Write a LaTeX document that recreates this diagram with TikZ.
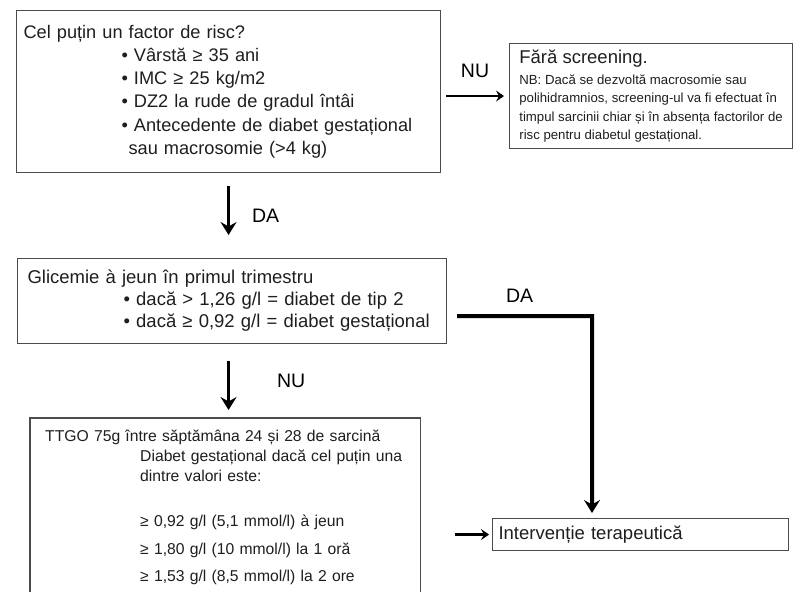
\documentclass[tikz,border=0pt]{standalone}
\usepackage{fontspec}
\setmainfont{Liberation Sans}
\definecolor{frameGray}{RGB}{75,75,75}
\definecolor{inkGray}{RGB}{30,30,30}
\usetikzlibrary{arrows.meta,positioning}

\begin{document}
\begin{tikzpicture}[x=1pt, y=-1pt,
  box/.style={draw=frameGray, line width=1.1pt, anchor=north west,
              align=left, text=inkGray},
  flow/.style={-{Stealth[length=13pt,width=16pt,inset=4.5pt]}, line width=3pt},
  side/.style={-{Stealth[length=8pt,width=11pt,inset=3pt]}, line width=2.4pt},
  answer/.style={font=\fontsize{19.5}{20}\selectfont, inner sep=0pt}
]
  \useasboundingbox (0,0) rectangle (799,591);
  \clip (0,0) rectangle (799,591);

  \node[box, inner xsep=7pt, minimum width=424pt, minimum height=162pt,
        text width=410pt, font=\fontsize{18.2}{23.3}\selectfont] (risk) at (16,10)
    {Cel puțin un factor de risc?\\
     \hspace*{98pt}• Vârstă ≥ 35 ani\\
     \hspace*{98pt}• IMC ≥ 25 kg/m2\\
     \hspace*{98pt}• DZ2 la rude de gradul întâi\\
     \hspace*{98pt}• Antecedente de diabet gestațional\\
     \hspace*{105pt}sau macrosomie (>4 kg)};

  \node[box, inner xsep=7pt, minimum width=283pt, minimum height=105pt,
        font=\fontsize{13.2}{18.3}\selectfont] (noscreen) at (509,43)
    {{\fontsize{18.5}{20}\selectfont Fără screening.}\\[3pt]
     NB: Dacă se dezvoltă macrosomie sau\\
     polihidramnios, screening-ul va fi efectuat în\\
     timpul sarcinii chiar și în absența factorilor de\\
     risc pentru diabetul gestațional.};

  \node[box, inner xsep=10pt, minimum width=429pt, minimum height=85pt,
        text width=409pt, font=\fontsize{18.5}{22}\selectfont] (glyc) at (17,258)
    {Glicemie à jeun în primul trimestru\\
     \hspace*{96pt}• dacă > 1,26 g/l = diabet de tip 2\\
     \hspace*{96pt}• dacă ≥ 0,92 g/l = diabet gestațional};

  \node[anchor=north west, align=left, text=inkGray, inner xsep=15pt, inner ysep=12pt,
        text width=360pt, font=\fontsize{15.7}{20}\selectfont] (ttgo) at (30,418)
    {TTGO 75g între săptămâna 24 și 28 de sarcină\\
     \hspace*{95pt}Diabet gestațional dacă cel puțin una\\
     \hspace*{95pt}dintre valori este:\\[25pt]
     \hspace*{95pt}≥ 0,92 g/l (5,1 mmol/l) à jeun\\[8pt]
     \hspace*{95pt}≥ 1,80 g/l (10 mmol/l) la 1 oră\\[7pt]
     \hspace*{95pt}≥ 1,53 g/l (8,5 mmol/l) la 2 ore};
  \draw[draw=frameGray, line width=1.1pt] ([yshift=-20pt]ttgo.south west)
    |- (ttgo.north east) -- ([yshift=-20pt]ttgo.south east);

  \node[box, inner xsep=6pt, minimum width=296pt, minimum height=32pt,
        text width=284pt, font=\fontsize{18.5}{20}\selectfont] (cure) at (492,518)
    {Intervenție terapeutică};

  \coordinate (elbow) at (592,316);

  \draw[side, shorten <=5pt, shorten >=5pt] (risk.east |- noscreen.west) -- (noscreen.west)
    node[answer, midway, above=17pt] {NU};
  \draw[flow, shorten <=13pt, shorten >=23pt] (risk.south) -- (risk.south |- glyc.north)
    node[answer, midway, right=22pt] {DA};
  \draw[flow, shorten <=17pt, shorten >=8pt] (risk.south |- glyc.south) -- (risk.south |- ttgo.north)
    node[answer, midway, right=47pt] {NU};
  \draw[flow, line width=4pt, shorten <=10pt, shorten >=5pt] ([yshift=-15pt]glyc.east)
    -- node[answer, above=12pt] {DA} (elbow) -- (elbow |- cure.north);
  \draw[side, shorten <=35pt, shorten >=3pt] (ttgo.east |- cure.west) -- (cure.west);
\end{tikzpicture}
\end{document}
